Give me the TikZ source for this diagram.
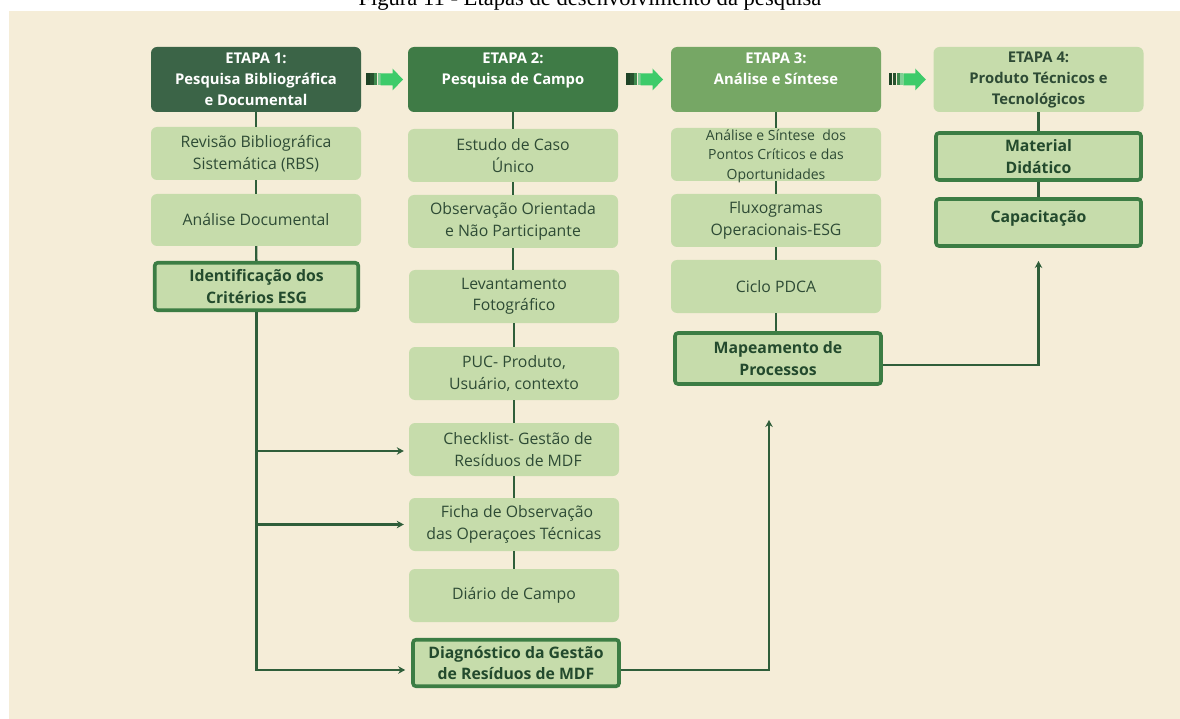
\documentclass[tikz,border=0pt]{standalone}
\usepackage{fontspec}
\setmainfont{Open Sans}
\newfontfamily\titlefont{Liberation Serif}
\usetikzlibrary{arrows.meta,calc}

\definecolor{panel}{HTML}{F5EDD8}
\definecolor{boxgreen}{HTML}{C6DCAB}
\definecolor{headA}{HTML}{3B6447}
\definecolor{headB}{HTML}{3F7B46}
\definecolor{headC}{HTML}{76A765}
\definecolor{rimgreen}{HTML}{3C7D44}
\definecolor{wire}{HTML}{2F5E3A}
\definecolor{bodytext}{HTML}{2E4B35}
\definecolor{boldtext}{HTML}{234A2D}
\definecolor{barA}{HTML}{1F4326}
\definecolor{barB}{HTML}{28532F}
\definecolor{barC}{HTML}{3F8A4E}
\definecolor{barD}{HTML}{7FCF95}
\definecolor{arrowgreen}{HTML}{3DCB6A}

\tikzset{
  lbox/.style={fill=boxgreen, rounded corners=6pt, text=bodytext, align=center,
    minimum width=210pt, minimum height=53pt, inner sep=0pt,
    font=\fontsize{15.8}{21.5}\selectfont},
  smalltext/.style={text=bodytext, align=center, inner sep=0pt,
    font=\fontsize{14}{19.5}\selectfont},
  keybox/.style={fill=boxgreen, draw=rimgreen, line width=3.6pt, rounded corners=3pt,
    text=boldtext, align=center, inner sep=0pt,
    font=\bfseries\fontsize{15.8}{21.5}\selectfont},
  headbox/.style={rounded corners=6pt, align=center, text=white,
    minimum width=210pt, minimum height=65pt, inner sep=0pt,
    font=\bfseries\fontsize{14.8}{21}\selectfont},
  wireline/.style={draw=wire, line width=2.4pt},
  wirearrow/.style={wireline, -{Stealth[length=7pt,width=7.5pt]}},
  stagearrow/.pic={
    \fill[barA] (-18.5,-6) rectangle (-15,6);
    \fill[barB] (-14.5,-6) rectangle (-11,6);
    \fill[barC] (-10.5,-6) rectangle (-7.5,6);
    \fill[barD] (-7,-6) rectangle (-4,6);
    \fill[arrowgreen] (-4,-6) -- (8,-6) -- (8,-11) -- (18.5,0) -- (8,11) -- (8,6) -- (-4,6) -- cycle;
  }
}

\begin{document}
\begin{tikzpicture}[x=1pt,y=-1pt]
\useasboundingbox (0,0) rectangle (1180,719);
\clip (0,0) rectangle (1180,719);

% caption and cream panel
\node[font=\titlefont\fontsize{22.6}{26}\selectfont, anchor=base, inner sep=0pt] (caption) at (590,6) {Figura 11 - Etapas de desenvolvimento da pesquisa};
\fill[panel] (9,11) rectangle (1180,719);

% stage headers
\node[headbox, fill=headA] (h1) at (256,79.5) {ETAPA 1:\\Pesquisa Bibliográfica\\e Documental};
\node[headbox, fill=headB] (h2) at (513,79.5) {ETAPA 2:\\Pesquisa de Campo\\\mbox{}};
\node[headbox, fill=headC] (h3) at (776,79.5) {ETAPA 3:\\Análise e Síntese\\\mbox{}};
\node[headbox, fill=boxgreen, text=bodytext] (h4) at (1038.5,79.5) {ETAPA 4:\\Produto Técnicos e\\Tecnológicos};

\pic at ($(h1.east)!0.5!(h2.west)$) {stagearrow};
\pic at ($(h2.east)!0.5!(h3.west)$) {stagearrow};
\pic at ($(h3.east)!0.5!(h4.west)$) {stagearrow};

% stage 1
\node[lbox] (rbs) at (256,153.5) {Revisão Bibliográfica\\Sistemática (RBS)};
\node[lbox, minimum height=52pt] (doc) at (256,220) {Análise Documental};
\node[keybox, minimum width=203.5pt, minimum height=47.5pt] (ident) at (256.5,286.5) {Identificação dos\\Critérios ESG};

% stage 2
\node[lbox] (estudo) at (513,155.5) {Estudo de Caso\\Único};
\node[lbox] (obs) at (513,221.5) {Observação Orientada\\e Não Participante};
\node[lbox] (lev) at (514,296.5) {Levantamento\\Fotográfico};
\node[lbox] (puc) at (514,373.5) {PUC- Produto,\\Usuário, contexto};
\node[lbox] (check) at (514,449.5) {\hspace*{8pt}Checklist- Gestão de\\\hspace*{8pt}Resíduos de MDF};
\node[lbox] (ficha) at (514,524.5) {\hspace*{6pt}Ficha de Observação\\das Operaçoes Técnicas};
\node[lbox] (diario) at (514,595.5) {Diário de Campo};
\node[keybox, minimum width=206pt, minimum height=46.5pt] (diag) at (516,663) {Diagnóstico da Gestão\\de Resíduos de MDF};

% stage 3
\node[lbox, label={[smalltext, yshift=-1.5pt]center:Análise e Síntese\ \ dos\\Pontos Críticos e das\\Oportunidades}] (sint) at (776,154.5) {};
\node[lbox] (flux) at (776,220.5) {Fluxogramas\\Operacionais-ESG};
\node[lbox] (pdca) at (776,286.5) {Ciclo PDCA};
\node[keybox, minimum width=206pt, minimum height=51pt] (mapa) at (778,358.5) {Mapeamento de\\Processos};

% stage 4
\node[keybox, minimum width=205pt, minimum height=47pt] (mat) at (1038.5,156.5) {Material\\Didático};
\node[keybox, minimum width=205pt, minimum height=47pt] (cap) at (1038.5,222.5) {\raisebox{12pt}{Capacitação}};

% links inside each column
\draw[wireline] (h1) -- (rbs);
\draw[wireline] (rbs) -- (doc);
\draw[wireline] (doc) -- (ident);
\draw[wireline] (h2) -- (estudo);
\draw[wireline] (estudo) -- (obs);
\draw[wireline] (obs.south) -- (obs.south |- lev.north);
\draw[wireline] (lev.south) -- (lev.south |- puc.north);
\draw[wireline] (puc) -- (check);
\draw[wireline] (check) -- (ficha);
\draw[wireline] (ficha) -- (diario);
\draw[wireline] (h3) -- (sint);
\draw[wireline] (sint) -- (flux);
\draw[wireline] (flux) -- (pdca);
\draw[wireline] (pdca.south) -- (pdca.south |- mapa.north);
\draw[wireline] (h4) -- (mat);
\draw[wireline] (mat) -- (cap);

% feeds from stage 1 into stage 2
\draw[wirearrow, shorten >=5pt] (ident.south) |- ([yshift=-1.5pt]check.west);
\draw[wirearrow, shorten >=5pt] (ident.south) |- (ficha.west);
\draw[wirearrow, shorten >=6pt] (ident.south) |- ([yshift=-7pt]diag.west);

% diagnosis into stage 3, mapping into stage 4
\coordinate (mapin) at (769,420);
\coordinate (capin) at (1038.5,261);
\draw[wirearrow] ([yshift=-7pt]diag.east) -| (mapin);
\draw[wirearrow] ([yshift=-6.5pt]mapa.east) -| (capin);
\end{tikzpicture}
\end{document}
